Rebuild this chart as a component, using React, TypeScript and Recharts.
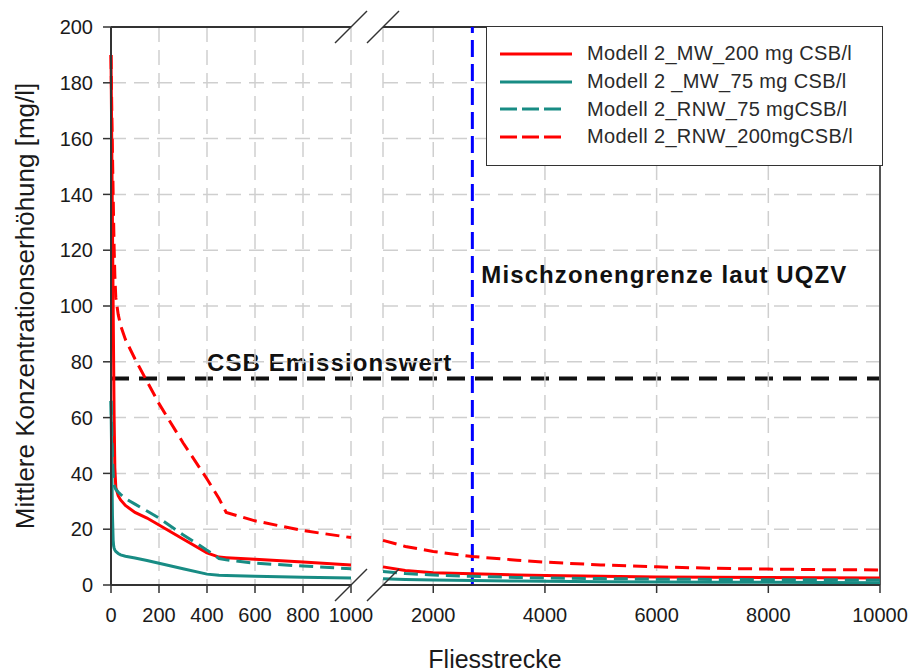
import React from 'react';
import { LineChart, Line, XAxis, YAxis, CartesianGrid, ReferenceLine, ReferenceDot, Legend } from 'recharts';

const FONT = "'Liberation Sans', Arial, Helvetica, sans-serif";
const RED = '#ff0000';
const TEAL = '#188c84';
const AXIS = '#333333';
const GRID = '#cfcfcf';

// Fliesstrecke [m], linker Abschnitt (0..1000) und rechter Abschnitt (nach dem Achsenbruch)
const distLeft = [0, 3, 6, 9, 11, 13, 16, 20, 30, 40, 60, 100, 150, 200, 300, 400, 450, 480, 600, 800, 1000];
const distRight = [1100, 1500, 2000, 2700, 3500, 4000, 5000, 6000, 7000, 8000, 9000, 10000];

// Modell 2_MW_200 mg CSB/l
const mw200Left = [190, 160, 130, 100, 80, 60, 42, 35, 32, 30.5, 28.5, 26, 24, 21.5, 16.5, 11.5, 10, 9.8, 9.2, 8.2, 7.2];
const mw200Right = [6.5, 5.2, 4.4, 4.0, 3.6, 3.4, 3.1, 2.9, 2.8, 2.7, 2.6, 2.5];

// Modell 2 _MW_75 mg CSB/l
const mw75Left = [66, 45, 25, 16, 14, 13.2, 12.5, 12, 11.3, 10.8, 10.3, 9.7, 8.8, 7.8, 5.8, 3.9, 3.5, 3.4, 3.1, 2.8, 2.5];
const mw75Right = [2.2, 2.0, 1.8, 1.6, 1.4, 1.3, 1.2, 1.1, 1.0, 0.95, 0.9, 0.8];

// Modell 2_RNW_75 mgCSB/l
const rnw75Left = [66, 56, 46, 40, 37, 36, 35, 34.3, 33.3, 32.5, 31, 29, 26.5, 24, 18, 12.5, 9.5, 9, 7.8, 6.8, 5.8];
const rnw75Right = [4.8, 4.1, 3.6, 3.1, 2.7, 2.5, 2.3, 2.1, 2.0, 1.9, 1.85, 1.8];

// Modell 2_RNW_200mgCSB/l
const rnw200Left = [190, 172, 155, 140, 130, 121, 111, 103, 97, 93, 88, 81, 73, 65, 51, 38, 31, 26, 23, 19.5, 17];
const rnw200Right = [16, 13.8, 12, 10.2, 8.9, 8.2, 7.2, 6.5, 6.0, 5.7, 5.5, 5.4];

const yTicks = [0, 20, 40, 60, 80, 100, 120, 140, 160, 180, 200];
const xTicksLeft = [0, 200, 400, 600, 800, 1000];
const xTicksRight = [2000, 4000, 6000, 8000, 10000];
const csbEmissionswert = 74;
const mischzonengrenze = 2700;

const series = [
  { key: 'mw200', name: 'Modell 2_MW_200 mg CSB/l', color: RED, dash: undefined },
  { key: 'mw75', name: 'Modell 2 _MW_75 mg CSB/l', color: TEAL, dash: undefined },
  { key: 'rnw75', name: 'Modell 2_RNW_75 mgCSB/l', color: TEAL, dash: '14 7' },
  { key: 'rnw200', name: 'Modell 2_RNW_200mgCSB/l', color: RED, dash: '14 7' },
];

const leftRows = distLeft.map((x, i) => ({
  x,
  mw200: mw200Left[i],
  mw75: mw75Left[i],
  rnw75: rnw75Left[i],
  rnw200: rnw200Left[i],
}));

const rightRows = distRight.map((x, i) => ({
  x,
  mw200: mw200Right[i],
  mw75: mw75Right[i],
  rnw75: rnw75Right[i],
  rnw200: rnw200Right[i],
}));

// CSB-Grenzwert über die ganze Breite (beide Abschnitte)
const overlayRows = [
  { x: 0, csb: csbEmissionswert },
  { x: 1, csb: csbEmissionswert },
];

const tickStyle = { fontSize: 20, fill: '#1a1a1a' };

// schräge Striche für den Achsenbruch
const BreakMark = (props: any) => {
  const { cx, cy } = props;
  return <line x1={cx - 16} y1={cy + 16} x2={cx + 16} y2={cy - 16} stroke={AXIS} strokeWidth={1.5} />;
};

const renderYTitle = (props: any) => {
  const { viewBox } = props;
  const cy = viewBox.y + viewBox.height / 2;
  return (
    <text x={34} y={cy} transform={`rotate(-90, 34, ${cy})`} textAnchor="middle" fontSize={26} fill="#1a1a1a">
      Mittlere Konzentrationserhöhung [mg/l]
    </text>
  );
};

const renderCsbLabel = (props: any) => {
  const { viewBox } = props;
  return (
    <text x={viewBox.x + 96} y={viewBox.y - 8} fontSize={24} fontWeight={700} fill="#111" letterSpacing={1.1}>
      CSB Emissionswert
    </text>
  );
};

const renderMischLabel = (props: any) => {
  const { viewBox } = props;
  return (
    <text x={viewBox.x + 9} y={viewBox.y + 256} fontSize={24} fontWeight={700} fill="#111" letterSpacing={1.1}>
      Mischzonengrenze laut UQZV
    </text>
  );
};

const LegendBox = () => (
  <div
    style={{
      width: 397,
      height: 140,
      boxSizing: 'border-box',
      border: `1.5px solid ${AXIS}`,
      background: '#fff',
      padding: '13px 0 0 13px',
      fontFamily: FONT,
    }}
  >
    {series.map(s => (
      <div key={s.key} style={{ display: 'flex', alignItems: 'center', height: 27.7 }}>
        <svg width={72} height={6} style={{ flex: 'none' }}>
          <line x1={0} y1={3} x2={s.dash ? 62 : 72} y2={3} stroke={s.color} strokeWidth={3} strokeDasharray={s.dash ? '17 5' : undefined} />
        </svg>
        <span style={{ marginLeft: 15, fontSize: 20, color: '#2a2a2a', whiteSpace: 'nowrap', letterSpacing: 0.35 }}>{s.name}</span>
      </div>
    ))}
  </div>
);

const renderLines = () =>
  series.map(s => (
    <Line
      key={s.key}
      type="linear"
      dataKey={s.key}
      name={s.name}
      stroke={s.color}
      strokeWidth={3}
      strokeDasharray={s.dash}
      dot={false}
      activeDot={false}
      isAnimationActive={false}
    />
  ));

export default function App() {
  return (
    <div style={{ position: 'absolute', left: 0, top: 0, width: 913, height: 672, background: '#fff', fontFamily: FONT }}>
      {/* durchgehende Linie CSB Emissionswert über beide Abschnitte */}
      <div style={{ position: 'absolute', left: 0, top: 0 }}>
        <LineChart width={913} height={672} data={overlayRows} margin={{ top: 27, right: 33, bottom: 87, left: 111 }}>
          <XAxis hide dataKey="x" type="number" domain={[0, 1]} />
          <YAxis hide type="number" domain={[0, 200]} width={0} />
          <Line
            type="linear"
            dataKey="csb"
            stroke="#111"
            strokeWidth={4}
            strokeDasharray="18 10"
            dot={false}
            activeDot={false}
            isAnimationActive={false}
          />
          <ReferenceLine y={csbEmissionswert} stroke="none" label={renderCsbLabel} />
        </LineChart>
      </div>

      {/* linker Abschnitt 0..1000 */}
      <div style={{ position: 'absolute', left: 0, top: 0 }}>
        <LineChart width={420} height={672} data={leftRows} margin={{ top: 27, right: 69, bottom: 47, left: 0 }}>
          <CartesianGrid stroke={GRID} strokeDasharray="15 8" strokeWidth={1.5} />
          <XAxis
            dataKey="x"
            type="number"
            domain={[0, 1000]}
            ticks={xTicksLeft}
            interval={0}
            height={40}
            tickSize={8}
            tickMargin={15}
            axisLine={{ stroke: AXIS, strokeWidth: 2 }}
            tickLine={{ stroke: AXIS, strokeWidth: 1.5 }}
            tick={tickStyle}
          />
          <YAxis
            type="number"
            domain={[0, 200]}
            ticks={yTicks}
            interval={0}
            width={111}
            tickSize={8}
            tickMargin={10}
            axisLine={{ stroke: AXIS, strokeWidth: 2 }}
            tickLine={{ stroke: AXIS, strokeWidth: 1.5 }}
            tick={tickStyle}
            label={renderYTitle}
          />
          <ReferenceLine y={200} stroke={AXIS} strokeWidth={2} />
          {renderLines()}
          <ReferenceDot x={1000} y={200} ifOverflow="visible" shape={BreakMark} />
          <ReferenceDot x={1000} y={0} ifOverflow="visible" shape={BreakMark} />
        </LineChart>
      </div>

      {/* rechter Abschnitt bis 10000 */}
      <div style={{ position: 'absolute', left: 0, top: 0 }}>
        <LineChart width={913} height={672} data={rightRows} margin={{ top: 27, right: 33, bottom: 47, left: 383 }}>
          <CartesianGrid stroke={GRID} strokeDasharray="15 8" strokeWidth={1.5} />
          <XAxis
            dataKey="x"
            type="number"
            domain={[1100, 10000]}
            ticks={xTicksRight}
            interval={0}
            height={40}
            tickSize={8}
            tickMargin={15}
            axisLine={{ stroke: AXIS, strokeWidth: 2 }}
            tickLine={{ stroke: AXIS, strokeWidth: 1.5 }}
            tick={tickStyle}
          />
          <YAxis hide type="number" domain={[0, 200]} ticks={yTicks} interval={0} width={0} />
          <ReferenceLine y={200} stroke={AXIS} strokeWidth={2} />
          <ReferenceLine x={10000} stroke="#555" strokeWidth={2} />
          <ReferenceLine
            x={mischzonengrenze}
            stroke="#0000ff"
            strokeWidth={3}
            strokeDasharray="17 7"
            label={renderMischLabel}
          />
          {renderLines()}
          <ReferenceDot x={1100} y={200} ifOverflow="visible" shape={BreakMark} />
          <ReferenceDot x={1100} y={0} ifOverflow="visible" shape={BreakMark} />
          <Legend
            layout="vertical"
            align="center"
            verticalAlign="middle"
            content={LegendBox}
            wrapperStyle={{ left: 486, top: 26, width: 397 }}
          />
        </LineChart>
      </div>

      <div style={{ position: 'absolute', left: 395, top: 645, width: 200, textAlign: 'center', fontSize: 25, color: '#1a1a1a' }}>
        Fliesstrecke
      </div>
    </div>
  );
}
